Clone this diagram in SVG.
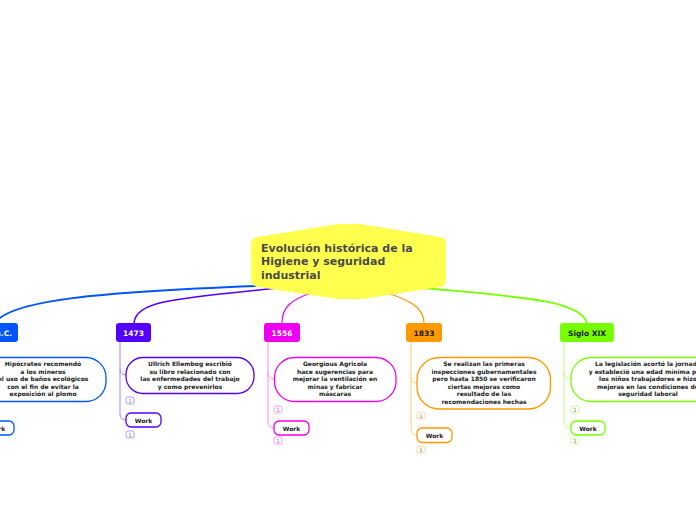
<svg xmlns="http://www.w3.org/2000/svg" width="696" height="520" viewBox="0 0 696 520">
<style>
.t{font-family:"DejaVu Sans",Verdana,sans-serif;font-weight:bold}
.title{font-size:11px;fill:#4a4a4a}
.main{font-size:7.5px;text-anchor:middle}
.sub{font-size:6px;fill:#1a1a1a;text-anchor:middle}
.badge{font-size:5px;fill:#777;text-anchor:middle;font-family:"DejaVu Sans",sans-serif}
.conn{fill:none;stroke-linecap:round}
</style>
<rect width="696" height="520" fill="#ffffff"/>
<g id="connectors">
  <path class="conn" d="M 256 286 C 100 292, 10 300, -5 323" stroke="#0055ff" stroke-width="1.8"/>
  <path class="conn" d="M 278 288 C 180 298, 136 300, 134 323" stroke="#5500ff" stroke-width="1.5"/>
  <path class="conn" d="M 311 293 C 290 300, 282 308, 282 323" stroke="#ee00ee" stroke-width="1.2"/>
  <path class="conn" d="M 387 293 C 410 300, 424 308, 424 323" stroke="#ff9900" stroke-width="1.2"/>
  <path class="conn" d="M 423 288 C 520 297, 580 300, 587 323" stroke="#77ff00" stroke-width="1.8"/>
  <path class="conn" d="M 120 342 V 414 Q 120 420 126 420 M 120 369 Q 120 375 126 375" stroke="#aa80ff" stroke-width="1"/>
  <path class="conn" d="M 268 342 V 422 Q 268 428 274 428 M 268 373 Q 268 379 274 379" stroke="#ff88ff" stroke-width="1"/>
  <path class="conn" d="M 411 342 V 429 Q 411 435 417 435 M 411 377 Q 411 383 417 383" stroke="#ffcc80" stroke-width="1"/>
  <path class="conn" d="M 564 342 V 422 Q 564 428 571 428 M 564 373 Q 564 379 571 379" stroke="#bbff80" stroke-width="1"/>
</g>
<g id="center">
  <path d="M 258 237 L 338 224 L 360 224 L 440 237 Q 446 238 446 244 L 446 280 Q 446 286 440 287 L 362 299 L 338 299 L 258 287 Q 251 286 251 280 L 251 244 Q 251 238 258 237 Z" fill="#ffff4d"/>
  <text class="t title" x="261" y="252">Evolución histórica de la</text>
  <text class="t title" x="261" y="265">Higiene y seguridad</text>
  <text class="t title" x="261" y="279">industrial</text>
</g>
<g id="topic-ac">
  <rect x="-40" y="323" width="58" height="19" rx="3" fill="#0055ff"/>
  <text class="t main" x="12" y="335.5" fill="#ffffff" style="text-anchor:end">400 a.C.</text>
</g>
<g id="sub-ac">
  <rect x="-30" y="357.5" width="136" height="44" rx="20" fill="#fff" stroke="#0055ff" stroke-width="1.3"/>
  <text class="t sub" x="43" y="366">Hipócrates recomendó</text>
  <text class="t sub" x="43" y="373.5">a los mineros</text>
  <text class="t sub" x="43" y="381">el uso de baños ecológicos</text>
  <text class="t sub" x="43" y="388.5">con el fin de evitar la</text>
  <text class="t sub" x="43" y="396">exposición al plomo</text>
</g>
<g id="work-ac">
  <rect x="-21" y="421" width="35" height="14" rx="5" fill="#fff" stroke="#0055ff" stroke-width="1.3"/>
  <text class="t sub" x="-3.5" y="430.5">Work</text>
</g>
<g id="topic-1473">
  <rect x="116" y="323" width="35" height="19" rx="3" fill="#5500ff"/>
  <text class="t main" x="133.5" y="335.5" fill="#ffffff">1473</text>
</g>
<g id="sub-1473">
  <rect x="126" y="357.5" width="128" height="36" rx="17" fill="#fff" stroke="#5500ff" stroke-width="1.3"/>
  <text class="t sub" x="190" y="366">Ullrich Ellembog escribió</text>
  <text class="t sub" x="190" y="373.5">su libro relacionado con</text>
  <text class="t sub" x="190" y="381">las enfermedades del trabajo</text>
  <text class="t sub" x="190" y="388.5">y como prevenirlos</text>
  <rect x="126" y="397" width="8" height="7" rx="2" fill="#fff" stroke="#aa80ff" stroke-width="0.8"/>
  <text class="badge" x="130" y="402.5">1</text>
</g>
<g id="work-1473">
  <rect x="126" y="413" width="35" height="14" rx="5" fill="#fff" stroke="#5500ff" stroke-width="1.3"/>
  <text class="t sub" x="143.5" y="422.5">Work</text>
  <rect x="126" y="431" width="8" height="7" rx="2" fill="#fff" stroke="#aa80ff" stroke-width="0.8"/>
  <text class="badge" x="130" y="436.5">1</text>
</g>
<g id="topic-1556">
  <rect x="264" y="323" width="36" height="19" rx="3" fill="#ee00ee"/>
  <text class="t main" x="282" y="335.5" fill="#ffffff">1556</text>
</g>
<g id="sub-1556">
  <rect x="274.5" y="357.5" width="121.5" height="44" rx="20" fill="#fff" stroke="#ee00ee" stroke-width="1.3"/>
  <text class="t sub" x="335" y="366">Georgious Agricola</text>
  <text class="t sub" x="335" y="373.5">hace sugerencias para</text>
  <text class="t sub" x="335" y="381">mejorar la ventilación en</text>
  <text class="t sub" x="335" y="388.5">minas y fabricar</text>
  <text class="t sub" x="335" y="396">máscaras</text>
  <rect x="274" y="406" width="8" height="7" rx="2" fill="#fff" stroke="#ff88ff" stroke-width="0.8"/>
  <text class="badge" x="278" y="411.5">1</text>
</g>
<g id="work-1556">
  <rect x="274" y="421" width="35" height="14" rx="5" fill="#fff" stroke="#ee00ee" stroke-width="1.3"/>
  <text class="t sub" x="291.5" y="430.5">Work</text>
  <rect x="274" y="437" width="8" height="7" rx="2" fill="#fff" stroke="#ff88ff" stroke-width="0.8"/>
  <text class="badge" x="278" y="442.5">1</text>
</g>
<g id="topic-1833">
  <rect x="406" y="323" width="36" height="19" rx="3" fill="#ff9900"/>
  <text class="t main" x="424" y="335.5" fill="#1a1a1a">1833</text>
</g>
<g id="sub-1833">
  <rect x="417" y="357.5" width="133.5" height="51.5" rx="22" fill="#fff" stroke="#ff9900" stroke-width="1.3"/>
  <text class="t sub" x="484" y="366">Se realizan las primeras</text>
  <text class="t sub" x="484" y="373.5">inspecciones gubernamentales</text>
  <text class="t sub" x="484" y="381">pero hasta 1850 se verificaron</text>
  <text class="t sub" x="484" y="388.5">ciertas mejoras como</text>
  <text class="t sub" x="484" y="396">resultado de las</text>
  <text class="t sub" x="484" y="403.5">recomendaciones hechas</text>
  <rect x="417" y="412" width="8" height="7" rx="2" fill="#fff" stroke="#ffcc80" stroke-width="0.8"/>
  <text class="badge" x="421" y="417.5">1</text>
</g>
<g id="work-1833">
  <rect x="417" y="428" width="35" height="14.5" rx="5" fill="#fff" stroke="#ff9900" stroke-width="1.3"/>
  <text class="t sub" x="434.5" y="437.5">Work</text>
  <rect x="417" y="446" width="8" height="7" rx="2" fill="#fff" stroke="#ffcc80" stroke-width="0.8"/>
  <text class="badge" x="421" y="451.5">1</text>
</g>
<g id="topic-sigloxix">
  <rect x="560" y="323" width="54" height="19" rx="3" fill="#77ff00"/>
  <text class="t main" x="587" y="335.5" fill="#1a1a1a">Siglo XIX</text>
</g>
<g id="sub-sigloxix">
  <rect x="571" y="357.5" width="160" height="44" rx="20" fill="#fff" stroke="#77ff00" stroke-width="1.3"/>
  <text class="t sub" x="648" y="366">La legislación acortó la jornada</text>
  <text class="t sub" x="648" y="373.5">y estableció una edad mínima para</text>
  <text class="t sub" x="648" y="381">los niños trabajadores e hizo</text>
  <text class="t sub" x="648" y="388.5">mejoras en las condiciones de</text>
  <text class="t sub" x="648" y="396">seguridad laboral</text>
  <rect x="571" y="406" width="8" height="7" rx="2" fill="#fff" stroke="#bbff80" stroke-width="0.8"/>
  <text class="badge" x="575" y="411.5">1</text>
</g>
<g id="work-sigloxix">
  <rect x="571" y="421" width="34" height="14" rx="5" fill="#fff" stroke="#77ff00" stroke-width="1.3"/>
  <text class="t sub" x="588" y="430.5">Work</text>
  <rect x="571" y="437" width="8" height="7" rx="2" fill="#fff" stroke="#bbff80" stroke-width="0.8"/>
  <text class="badge" x="575" y="442.5">1</text>
</g>
</svg>
